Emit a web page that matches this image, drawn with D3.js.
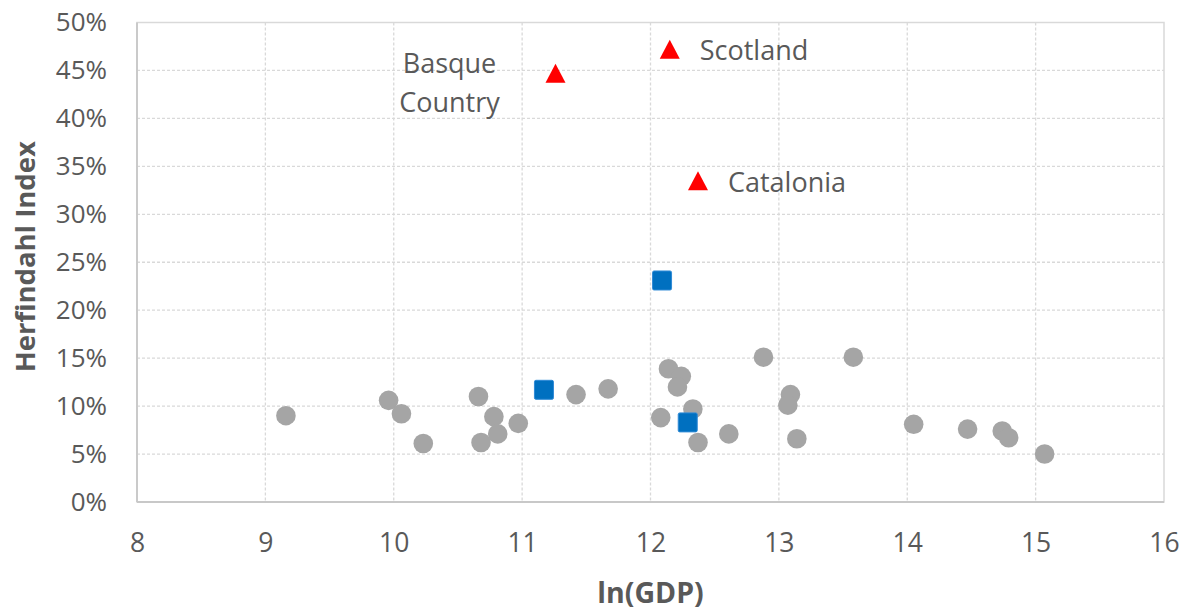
<!DOCTYPE html>
<html>
<head>
<meta charset="utf-8">
<script src="https://cdn.jsdelivr.net/npm/d3@7"></script>
<style>
  html, body { margin: 0; padding: 0; background: #fff; }
  svg { display: block; font-family: "Open Sans", sans-serif; }
</style>
</head>
<body>
<svg id="chart" width="1186" height="611"></svg>
<script>
// ---- data ----
const xTicks = [8, 9, 10, 11, 12, 13, 14, 15, 16];
const yTicks = [0, 0.05, 0.10, 0.15, 0.20, 0.25, 0.30, 0.35, 0.40, 0.45, 0.50];

// grey circles: other regions
const otherX = [9.16, 9.96, 10.06, 10.23, 10.66, 10.78, 10.81, 10.68, 10.97, 11.42, 11.67,
                12.14, 12.24, 12.21, 12.33, 12.08, 12.37, 12.61, 12.88, 13.09, 13.07, 13.14,
                13.58, 14.05, 14.47, 14.74, 14.79, 15.07];
const otherY = [0.090, 0.106, 0.092, 0.061, 0.110, 0.089, 0.071, 0.062, 0.082, 0.112, 0.118,
                0.139, 0.131, 0.120, 0.097, 0.088, 0.062, 0.071, 0.151, 0.112, 0.101, 0.066,
                0.151, 0.081, 0.076, 0.074, 0.067, 0.050];

// blue squares
const squareX = [12.09, 11.17, 12.29];
const squareY = [0.231, 0.117, 0.083];

// red triangles (labelled)
const triNames = ["Basque Country", "Scotland", "Catalonia"];
const triX = [11.26, 12.15, 12.37];
const triY = [0.447, 0.472, 0.335];

const xTitle = "ln(GDP)";
const yTitle = "Herfindahl Index";

// ---- layout ----
const svg = d3.select("#chart");
const mLeft = 137, mRight = 1164, mTop = 22.5, mBottom = 502;
const x = d3.scaleLinear().domain([8, 16]).range([mLeft, mRight]);
const y = d3.scaleLinear().domain([0, 0.5]).range([mBottom, mTop]);

const textColor = "#595959";
const gridColor = "#d9d9d9";

// gridlines
const g = svg.append("g");
g.selectAll("line.vg").data(xTicks.slice(1, -1)).enter().append("line")
  .attr("x1", d => x(d)).attr("x2", d => x(d))
  .attr("y1", mTop).attr("y2", mBottom)
  .attr("stroke", gridColor).attr("stroke-width", 1.3).attr("stroke-dasharray", "3,2");
g.selectAll("line.hg").data(yTicks.slice(1, -1)).enter().append("line")
  .attr("x1", mLeft).attr("x2", mRight)
  .attr("y1", d => y(d)).attr("y2", d => y(d))
  .attr("stroke", gridColor).attr("stroke-width", 1.3).attr("stroke-dasharray", "3,2");
// frame
g.append("rect").attr("x", mLeft).attr("y", mTop).attr("width", mRight - mLeft).attr("height", mBottom - mTop)
  .attr("fill", "none").attr("stroke", gridColor).attr("stroke-width", 1.5);
g.append("line").attr("x1", mLeft).attr("x2", mLeft).attr("y1", mTop).attr("y2", mBottom)
  .attr("stroke", "#c8c8c8").attr("stroke-width", 1.8);
g.append("line").attr("x1", mLeft).attr("x2", mRight).attr("y1", mBottom).attr("y2", mBottom)
  .attr("stroke", "#c8c8c8").attr("stroke-width", 1.8);

// axes (tick labels only)
const yAxis = d3.axisLeft(y).tickValues(yTicks).tickFormat(d3.format(".0%")).tickSize(0).tickPadding(0);
const ya = svg.append("g").attr("transform", `translate(${mLeft - 30},0)`).call(yAxis);
ya.select(".domain").remove();
ya.selectAll("text").attr("fill", textColor).style("font-size", "26px")
  .style("font-family", "'Open Sans', sans-serif");

const xAxis = d3.axisBottom(x).tickValues(xTicks).tickFormat(d3.format("d")).tickSize(0).tickPadding(0);
const xa = svg.append("g").attr("transform", `translate(0,${mBottom + 31})`).call(xAxis);
xa.select(".domain").remove();
xa.selectAll("text").attr("fill", textColor).style("font-size", "26.5px")
  .style("font-family", "'Open Sans', sans-serif");

// axis titles
svg.append("text").attr("x", (mLeft + mRight) / 2).attr("y", 603)
  .attr("text-anchor", "middle").attr("fill", textColor)
  .style("font-size", "28.5px").style("font-weight", "bold").text(xTitle);
svg.append("text").attr("transform", `translate(35,${(mTop + mBottom) / 2 - 5.5}) rotate(-90)`)
  .attr("text-anchor", "middle").attr("fill", textColor)
  .style("font-size", "27.5px").style("font-weight", "bold").text(yTitle);

// grey circles
const others = otherX.map((v, i) => ({ x: v, y: otherY[i] }));
svg.append("g").selectAll("circle").data(others).enter().append("circle")
  .attr("cx", d => x(d.x)).attr("cy", d => y(d.y)).attr("r", 9.8)
  .attr("fill", "#a5a5a5");

// blue squares
const squares = squareX.map((v, i) => ({ x: v, y: squareY[i] }));
const sq = 19;
svg.append("g").selectAll("rect").data(squares).enter().append("rect")
  .attr("x", d => x(d.x) - sq / 2).attr("y", d => y(d.y) - sq / 2)
  .attr("width", sq).attr("height", sq).attr("rx", 1.5)
  .attr("fill", "#0070c0").attr("stroke", "#2f8ad6").attr("stroke-width", 1);

// red triangles
const tris = triX.map((v, i) => ({ name: triNames[i], x: v, y: triY[i] }));
const tw = 20, th = 19;
svg.append("g").selectAll("path").data(tris).enter().append("path")
  .attr("transform", d => `translate(${x(d.x)},${y(d.y)})`)
  .attr("d", `M0,${-th / 2} L${tw / 2},${th / 2} L${-tw / 2},${th / 2} Z`)
  .attr("fill", "#ff0000");

// labels
const lab = svg.append("g").attr("fill", textColor).style("font-size", "27px");
tris.forEach(d => {
  const px = x(d.x), py = y(d.y);
  if (d.name === "Basque Country") {
    const t = lab.append("text").attr("text-anchor", "middle");
    const words = d.name.split(" ");
    t.append("tspan").attr("x", px - 106).attr("y", py + 0).text(words[0]);
    t.append("tspan").attr("x", px - 106).attr("y", py + 38.5).text(words[1]);
  } else {
    lab.append("text").attr("x", px + 30).attr("y", py + 11).text(d.name);
  }
});
</script>
</body>
</html>
